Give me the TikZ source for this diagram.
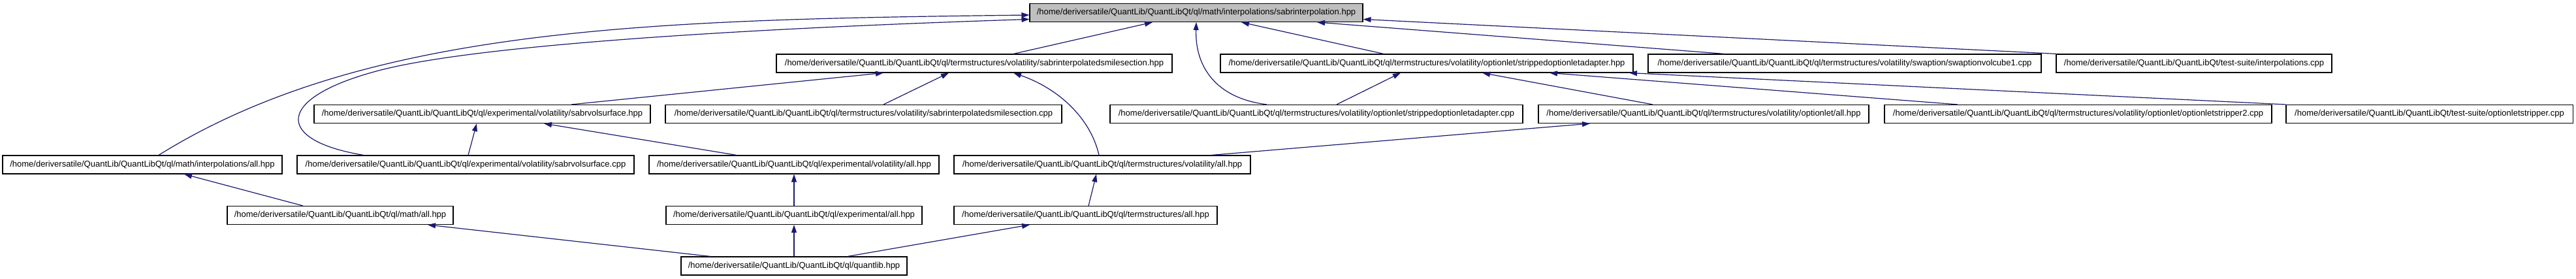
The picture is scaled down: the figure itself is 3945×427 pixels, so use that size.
\documentclass[tikz,border=0pt]{standalone}
\usepackage{fontspec}
\setmainfont{Liberation Sans}
\usetikzlibrary{arrows.meta}
\definecolor{edgeblue}{RGB}{25,25,112}
\definecolor{focusgray}{RGB}{191,191,191}
\tikzset{
  box/.style={draw=black,line width=1.1pt,fill=white,minimum height=28pt,inner sep=0pt,
    font=\fontsize{13}{15}\selectfont,anchor=center},
  focus/.style={box,fill=focusgray},
  edge/.style={draw=edgeblue,line width=1.2pt,-{Triangle[length=12pt,width=8pt,fill=edgeblue]}}
}
\begin{document}
\begin{tikzpicture}[x=1pt,y=-1pt]
\fill[white] (0,0) rectangle (3945,427);
\useasboundingbox (0,0) rectangle (3945,427);
% row 1
\node[focus,minimum width=510pt] (sabr) at (1832,19.5) {/home/deriversatile/QuantLib/QuantLibQt/ql/math/interpolations/sabrinterpolation.hpp};
% row 2
\node[box,minimum width=606pt] (sismhpp) at (1492,97) {/home/deriversatile/QuantLib/QuantLibQt/ql/termstructures/volatility/sabrinterpolatedsmilesection.hpp};
\node[box,minimum width=632pt] (soahpp) at (2185,97) {/home/deriversatile/QuantLib/QuantLibQt/ql/termstructures/volatility/optionlet/strippedoptionletadapter.hpp};
\node[box,minimum width=602pt] (svc) at (2825,97) {/home/deriversatile/QuantLib/QuantLibQt/ql/termstructures/volatility/swaption/swaptionvolcube1.cpp};
\node[box,minimum width=422pt] (tsi) at (3360,97) {/home/deriversatile/QuantLib/QuantLibQt/test-suite/interpolations.cpp};
% row 3
\node[box,minimum width=515pt] (svshpp) at (738.5,174.5) {/home/deriversatile/QuantLib/QuantLibQt/ql/experimental/volatility/sabrvolsurface.hpp};
\node[box,minimum width=607pt] (sismcpp) at (1322.5,174.5) {/home/deriversatile/QuantLib/QuantLibQt/ql/termstructures/volatility/sabrinterpolatedsmilesection.cpp};
\node[box,minimum width=632pt] (soacpp) at (2016,174.5) {/home/deriversatile/QuantLib/QuantLibQt/ql/termstructures/volatility/optionlet/strippedoptionletadapter.cpp};
\node[box,minimum width=506pt] (optall) at (2609,174.5) {/home/deriversatile/QuantLib/QuantLibQt/ql/termstructures/volatility/optionlet/all.hpp};
\node[box,minimum width=593pt] (os2) at (3182.5,174.5) {/home/deriversatile/QuantLib/QuantLibQt/ql/termstructures/volatility/optionlet/optionletstripper2.cpp};
\node[box,minimum width=439pt] (tso) at (3720.5,174.5) {/home/deriversatile/QuantLib/QuantLibQt/test-suite/optionletstripper.cpp};
% row 4
\node[box,minimum width=428pt] (interpall) at (218,252) {/home/deriversatile/QuantLib/QuantLibQt/ql/math/interpolations/all.hpp};
\node[box,minimum width=516pt] (svscpp) at (713,252) {/home/deriversatile/QuantLib/QuantLibQt/ql/experimental/volatility/sabrvolsurface.cpp};
\node[box,minimum width=444pt] (expvolall) at (1216,252) {/home/deriversatile/QuantLib/QuantLibQt/ql/experimental/volatility/all.hpp};
\node[box,minimum width=454pt] (tsvolall) at (1688,252) {/home/deriversatile/QuantLib/QuantLibQt/ql/termstructures/volatility/all.hpp};
% row 5
\node[box,minimum width=346pt] (mathall) at (521,329.5) {/home/deriversatile/QuantLib/QuantLibQt/ql/math/all.hpp};
\node[box,minimum width=392pt] (expall) at (1216,329.5) {/home/deriversatile/QuantLib/QuantLibQt/ql/experimental/all.hpp};
\node[box,minimum width=403pt] (tsall) at (1662.5,329.5) {/home/deriversatile/QuantLib/QuantLibQt/ql/termstructures/all.hpp};
% row 6
\node[box,minimum width=346pt] (quantlib) at (1216,407) {/home/deriversatile/QuantLib/QuantLibQt/ql/quantlib.hpp};
% edges into sabrinterpolation.hpp
\draw[edge] ([xshift=25pt]interpall.north) .. controls (560,40) and (1000,30) .. ([yshift=-3.5pt]sabr.west);
\draw[edge] ([xshift=-156pt]svscpp.north) .. controls (420,215) and (420,150) .. (580,108) .. controls (720,71) and (1100,45) .. ([yshift=-10pt]sabr.west);
\draw[edge] ([xshift=60pt]sismhpp.north) -- ([xshift=-67pt]sabr.south);
\draw[edge] ([xshift=-76pt]soacpp.north) .. controls (1860,150) and (1830,100) .. ([xshift=0pt]sabr.south);
\draw[edge] ([xshift=-66pt]soahpp.north) -- ([xshift=69pt]sabr.south);
\draw[edge] ([xshift=-184pt]svc.north) -- ([xshift=185pt]sabr.south);
\draw[edge] ([xshift=1pt]tsi.north west) -- ([yshift=-10pt]sabr.east);
% edges into sabrinterpolatedsmilesection.hpp
\draw[edge] ([xshift=136.5pt]svshpp.north) -- ([xshift=-139pt]sismhpp.south);
\draw[edge] ([xshift=30.5pt]sismcpp.north) -- ([xshift=-39pt]sismhpp.south);
\draw[edge] ([xshift=-5pt]tsvolall.north) .. controls (1670,180) and (1620,135) .. ([xshift=60pt]sismhpp.south);
% edges into strippedoptionletadapter.hpp
\draw[edge] ([xshift=31pt]soacpp.north) -- ([xshift=-40pt]soahpp.south);
\draw[edge] ([xshift=-78pt]optall.north) -- ([xshift=85pt]soahpp.south);
\draw[edge] ([xshift=-184.5pt]os2.north) -- ([xshift=188pt]soahpp.south);
\draw[edge] (tso.north west) -- ([xshift=310pt]soahpp.south);
% edges into sabrvolsurface.hpp
\draw[edge] ([xshift=4pt]svscpp.north) -- ([xshift=-8.5pt]svshpp.south);
\draw[edge] ([xshift=-88pt]expvolall.north) -- ([xshift=94.5pt]svshpp.south);
% lower edges
\draw[edge] ([xshift=-57pt]mathall.north) -- ([xshift=64pt]interpall.south);
\draw[edge] (expall.north) -- (expvolall.south);
\draw[edge] (quantlib.north) -- (expall.south);
\draw[edge] ([xshift=-128pt]quantlib.north) -- ([xshift=134pt]mathall.south);
\draw[edge] ([xshift=82pt]quantlib.north) -- ([xshift=-85.5pt]tsall.south);
\draw[edge] ([xshift=4.5pt]tsall.north) -- ([xshift=-9pt]tsvolall.south);
\draw[edge] ([xshift=167pt]tsvolall.north) -- ([xshift=-174pt]optall.south);
\end{tikzpicture}
\end{document}
